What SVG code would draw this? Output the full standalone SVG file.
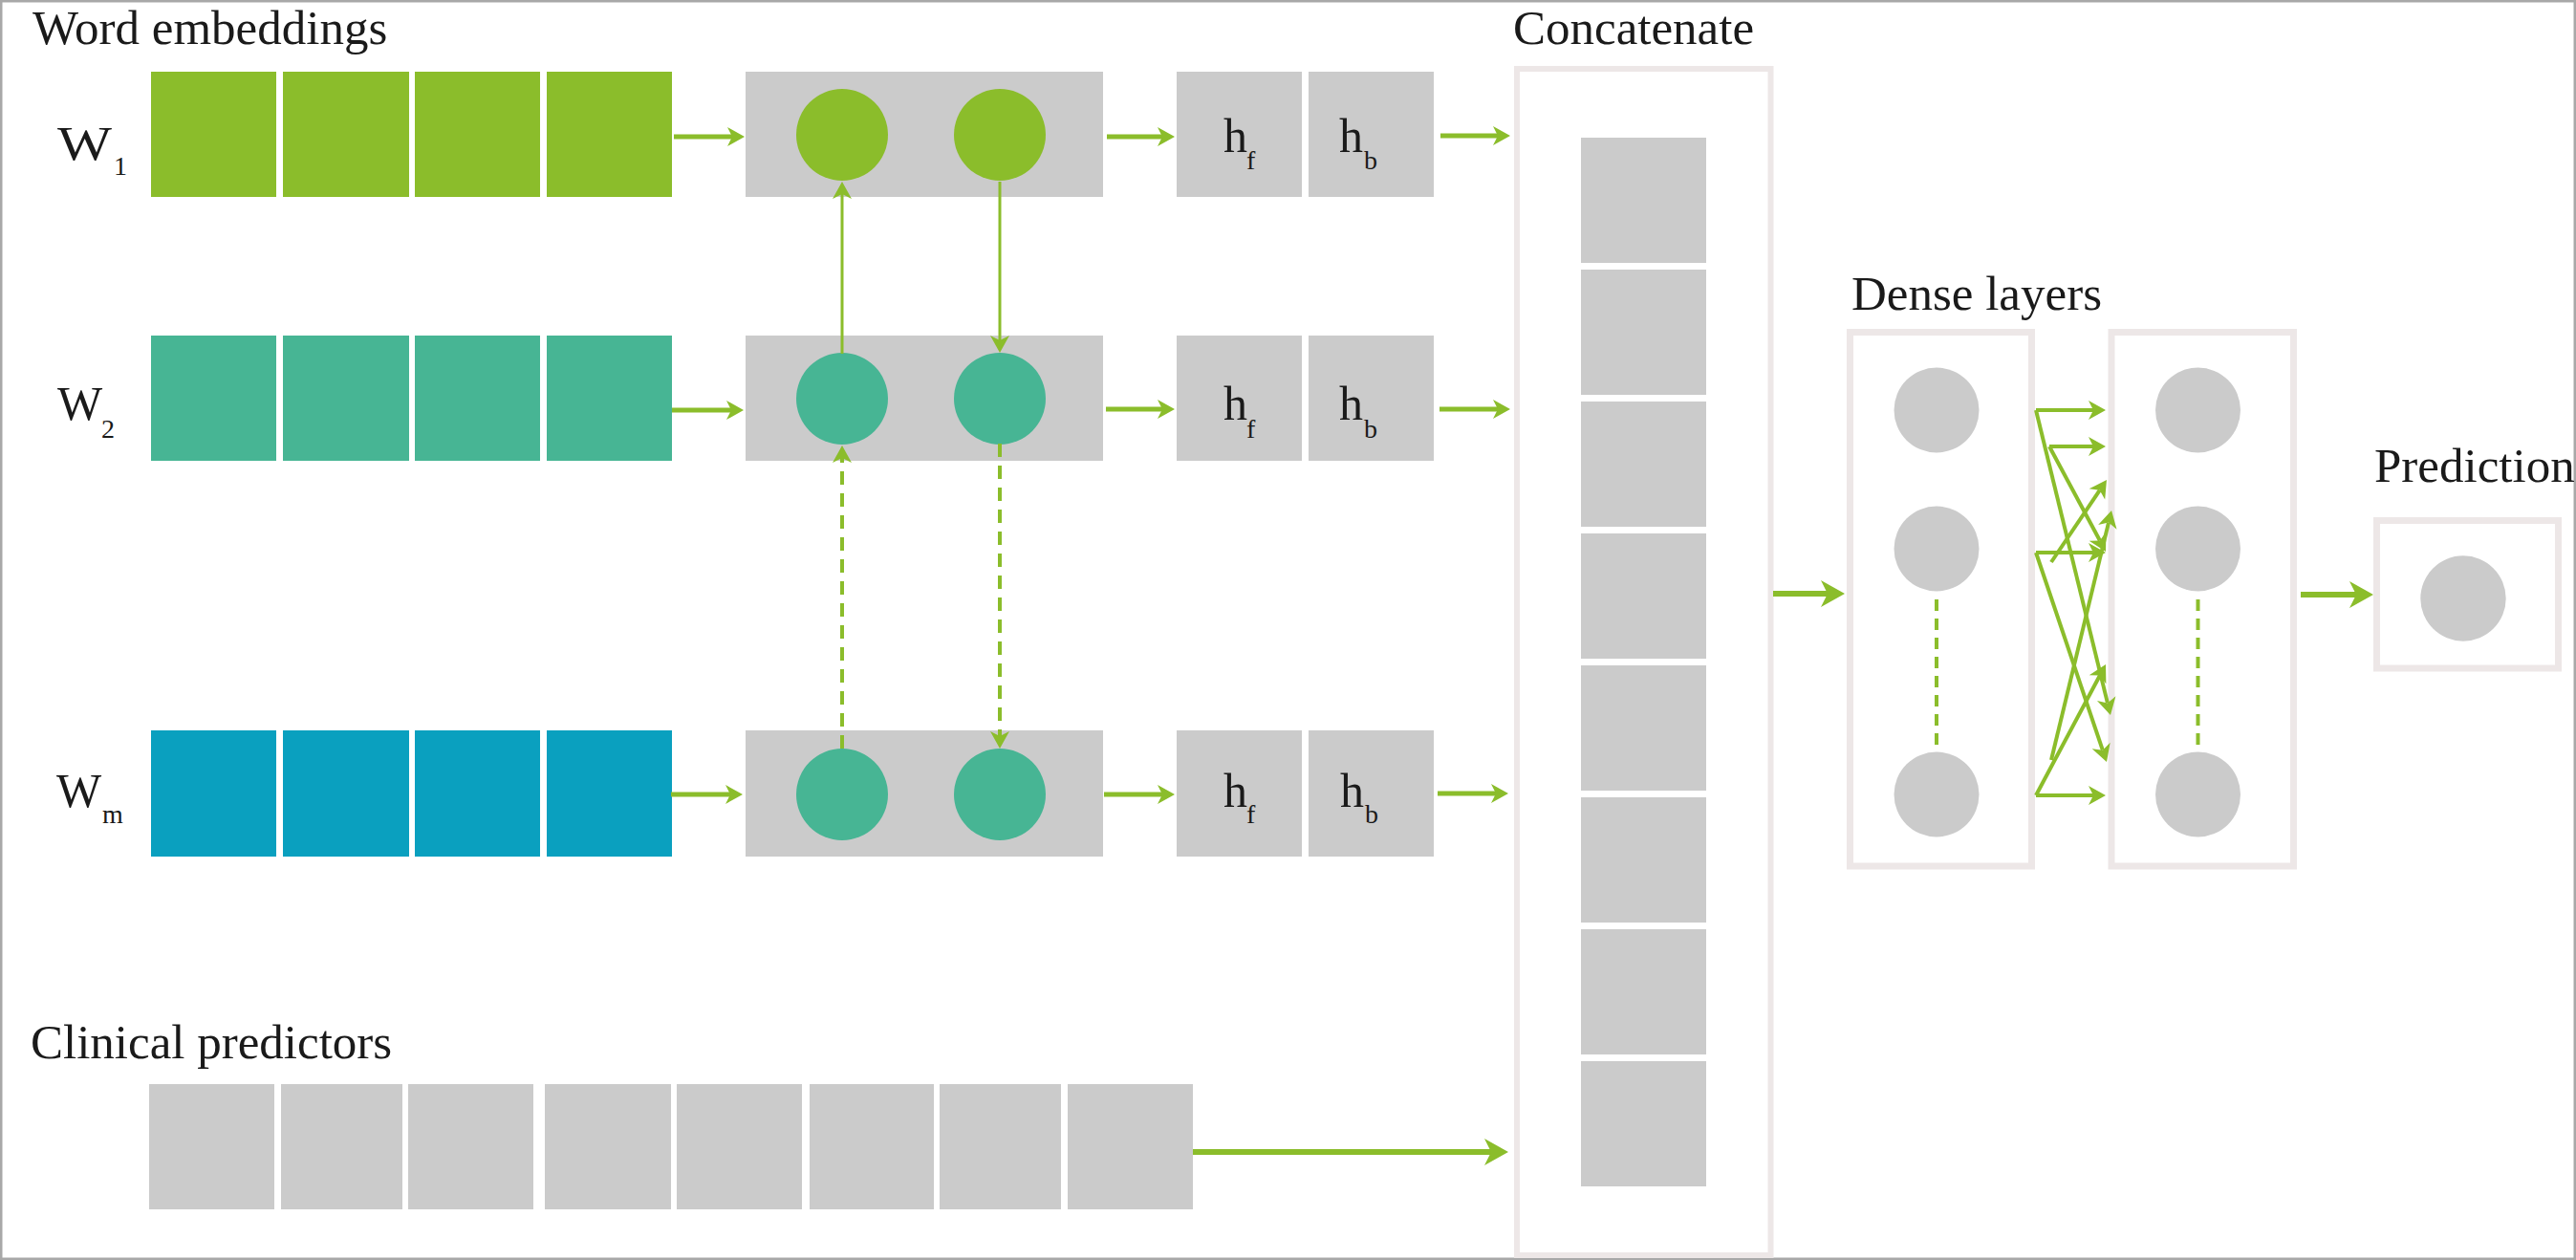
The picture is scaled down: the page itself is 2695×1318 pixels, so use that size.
<svg xmlns="http://www.w3.org/2000/svg" width="2695" height="1318" viewBox="0 0 2695 1318">
<defs>
<style>
.t{font-family:"Liberation Serif","Times New Roman",serif;fill:#1a1a1a}
.title{font-size:51px}
.big{font-size:50px}
.sub{font-size:28px}
.g1{fill:#8BBD2B}
.g2{fill:#47B594}
.g3{fill:#0AA0BF}
.gr{fill:#CBCBCB}
.cont{fill:none;stroke:#EDE7E7}
.ar{fill:none;stroke:#8BBD2B;stroke-linecap:butt}
.s5{stroke-width:5;marker-end:url(#ah)}
.s6{stroke-width:6;marker-end:url(#ahL)}
.s3{stroke-width:3;marker-end:url(#ah)}
.s4{stroke-width:4;marker-end:url(#ah)}
.dash{stroke-dasharray:14 9}
.dd{fill:none;stroke:#8BBD2B;stroke-width:4;stroke-dasharray:12 8}
</style>
<marker id="ah" markerUnits="userSpaceOnUse" viewBox="-6 -11 20 22" markerWidth="20" markerHeight="22" refX="0" refY="0" orient="auto" overflow="visible">
<path d="M13,0 L-5,-10 L0,0 L-5,10 Z" fill="#8BBD2B"/>
</marker>
<marker id="ahL" markerUnits="userSpaceOnUse" viewBox="-8 -15 27 30" markerWidth="27" markerHeight="30" refX="0" refY="0" orient="auto" overflow="visible">
<path d="M18,0 L-7,-14 L0,0 L-7,14 Z" fill="#8BBD2B"/>
</marker>
</defs>
<rect x="0" y="0" width="2695" height="1318" fill="#ffffff"/>
<rect x="1.25" y="1.25" width="2692.5" height="1315.5" fill="none" stroke="#A8A8A8" stroke-width="2.5"/>

<g id="labels">
<text class="t title" x="34" y="46">Word embeddings</text>
<text class="t title" x="1583" y="46">Concatenate</text>
<text class="t title" x="1937" y="324">Dense layers</text>
<text class="t title" x="2484" y="504">Prediction</text>
<text class="t title" x="32" y="1107">Clinical predictors</text>
</g>

<g id="w1-label"><text class="t big" x="60" y="167" textLength="57" lengthAdjust="spacingAndGlyphs">W</text><text class="t sub" x="119" y="183">1</text></g>
<g id="w2-label"><text class="t big" x="60" y="439">W</text><text class="t sub" x="106" y="458">2</text></g>
<g id="wm-label"><text class="t big" x="59" y="844">W</text><text class="t sub" x="107" y="861">m</text></g>

<g id="w1-embedding" class="g1">
<rect x="158" y="75" width="131" height="131"/><rect x="296" y="75" width="132" height="131"/><rect x="434" y="75" width="131" height="131"/><rect x="572" y="75" width="131" height="131"/>
</g>
<g id="w2-embedding" class="g2">
<rect x="158" y="351" width="131" height="131"/><rect x="296" y="351" width="132" height="131"/><rect x="434" y="351" width="131" height="131"/><rect x="572" y="351" width="131" height="131"/>
</g>
<g id="wm-embedding" class="g3">
<rect x="158" y="764" width="131" height="132"/><rect x="296" y="764" width="132" height="132"/><rect x="434" y="764" width="131" height="132"/><rect x="572" y="764" width="131" height="132"/>
</g>

<g id="w1-lstm">
<rect class="gr" x="780" y="75" width="374" height="131"/>
<circle class="g1" cx="881" cy="141" r="48"/><circle class="g1" cx="1046" cy="141" r="48"/>
</g>
<g id="w2-lstm">
<rect class="gr" x="780" y="351" width="374" height="131"/>
<circle class="g2" cx="881" cy="417" r="48"/><circle class="g2" cx="1046" cy="417" r="48"/>
</g>
<g id="wm-lstm">
<rect class="gr" x="780" y="764" width="374" height="132"/>
<circle class="g2" cx="881" cy="831" r="48"/><circle class="g2" cx="1046" cy="831" r="48"/>
</g>

<g id="w1-hidden">
<rect class="gr" x="1231" y="75" width="131" height="131"/><rect class="gr" x="1369" y="75" width="131" height="131"/>
<text class="t big" x="1280" y="159">h</text><text class="t sub" x="1304" y="177">f</text>
<text class="t big" x="1401" y="159">h</text><text class="t sub" x="1427" y="177">b</text>
</g>
<g id="w2-hidden">
<rect class="gr" x="1231" y="351" width="131" height="131"/><rect class="gr" x="1369" y="351" width="131" height="131"/>
<text class="t big" x="1280" y="439">h</text><text class="t sub" x="1304" y="458">f</text>
<text class="t big" x="1401" y="439">h</text><text class="t sub" x="1427" y="458">b</text>
</g>
<g id="wm-hidden">
<rect class="gr" x="1231" y="764" width="131" height="132"/><rect class="gr" x="1369" y="764" width="131" height="132"/>
<text class="t big" x="1280" y="844">h</text><text class="t sub" x="1304" y="861">f</text>
<text class="t big" x="1402" y="844">h</text><text class="t sub" x="1428" y="861">b</text>
</g>

<g id="clinical" class="gr">
<rect x="156" y="1134" width="131" height="131"/><rect x="294" y="1134" width="127" height="131"/><rect x="427" y="1134" width="131" height="131"/><rect x="570" y="1134" width="132" height="131"/><rect x="708" y="1134" width="131" height="131"/><rect x="847" y="1134" width="130" height="131"/><rect x="983" y="1134" width="127" height="131"/><rect x="1117" y="1134" width="131" height="131"/>
</g>

<g id="concatenate">
<rect class="cont" x="1587" y="72" width="265.5" height="1241" stroke-width="6"/>
<g class="gr">
<rect x="1654" y="144" width="131" height="131"/><rect x="1654" y="282" width="131" height="131"/><rect x="1654" y="420" width="131" height="131"/><rect x="1654" y="558" width="131" height="131"/><rect x="1654" y="696" width="131" height="131"/><rect x="1654" y="834" width="131" height="131"/><rect x="1654" y="972" width="131" height="131"/><rect x="1654" y="1110" width="131" height="131"/>
</g>
</g>

<g id="dense1">
<rect class="cont" x="1935.5" y="347.5" width="190" height="558.5" stroke-width="7"/>
<circle class="gr" cx="2026" cy="429" r="44.5"/><circle class="gr" cx="2026" cy="574" r="44.5"/><circle class="gr" cx="2026" cy="831" r="44.5"/>
<path class="dd" d="M2026,627 V785"/>
</g>
<g id="dense2">
<rect class="cont" x="2209" y="347.5" width="190.5" height="558.5" stroke-width="7"/>
<circle class="gr" cx="2299.5" cy="429" r="44.5"/><circle class="gr" cx="2299.5" cy="574" r="44.5"/><circle class="gr" cx="2299.5" cy="831" r="44.5"/>
<path class="dd" d="M2299.5,627 V785"/>
</g>
<g id="prediction">
<rect class="cont" x="2486.5" y="544.5" width="190" height="154.5" stroke-width="7"/>
<circle class="gr" cx="2577" cy="626" r="44.7"/>
</g>

<g id="connectors">
<path class="ar s5" d="M705,143 H766"/>
<path class="ar s5" d="M703,429 H765"/>
<path class="ar s5" d="M702,831 H764"/>
<path class="ar s5" d="M1158,143 H1216"/>
<path class="ar s5" d="M1157,428 H1216"/>
<path class="ar s5" d="M1155,831 H1216"/>
<path class="ar s5" d="M1507,142 H1567"/>
<path class="ar s5" d="M1506,428 H1567"/>
<path class="ar s5" d="M1504,830 H1565"/>
<path class="ar s6" d="M1248,1205 H1560"/>
<path class="ar s6" d="M1855,621 H1912"/>
<path class="ar s6" d="M2407,622 H2465"/>
<path class="ar s3" d="M881,370 V203"/>
<path class="ar s3" d="M1046,190 V356"/>
<path class="ar s4 dash" d="M881,783 V479"/>
<path class="ar s4 dash" d="M1046,464 V770"/>
<path class="ar s4" d="M2130,429 H2190"/>
<path class="ar s4" d="M2144,467 H2190"/>
<path class="ar s4" d="M2130,429 L2204.9,735.4"/>
<path class="ar s4" d="M2144,467 L2196.9,565.5"/>
<path class="ar s4" d="M2130,578 H2190"/>
<path class="ar s4" d="M2146,588 L2196.7,512.8"/>
<path class="ar s4" d="M2130,578 L2199.8,784.7"/>
<path class="ar s4" d="M2146,795 L2206,546.6"/>
<path class="ar s4" d="M2130,832 L2196.9,706.5"/>
<path class="ar s4" d="M2130,832 H2190"/>
</g>
</svg>
